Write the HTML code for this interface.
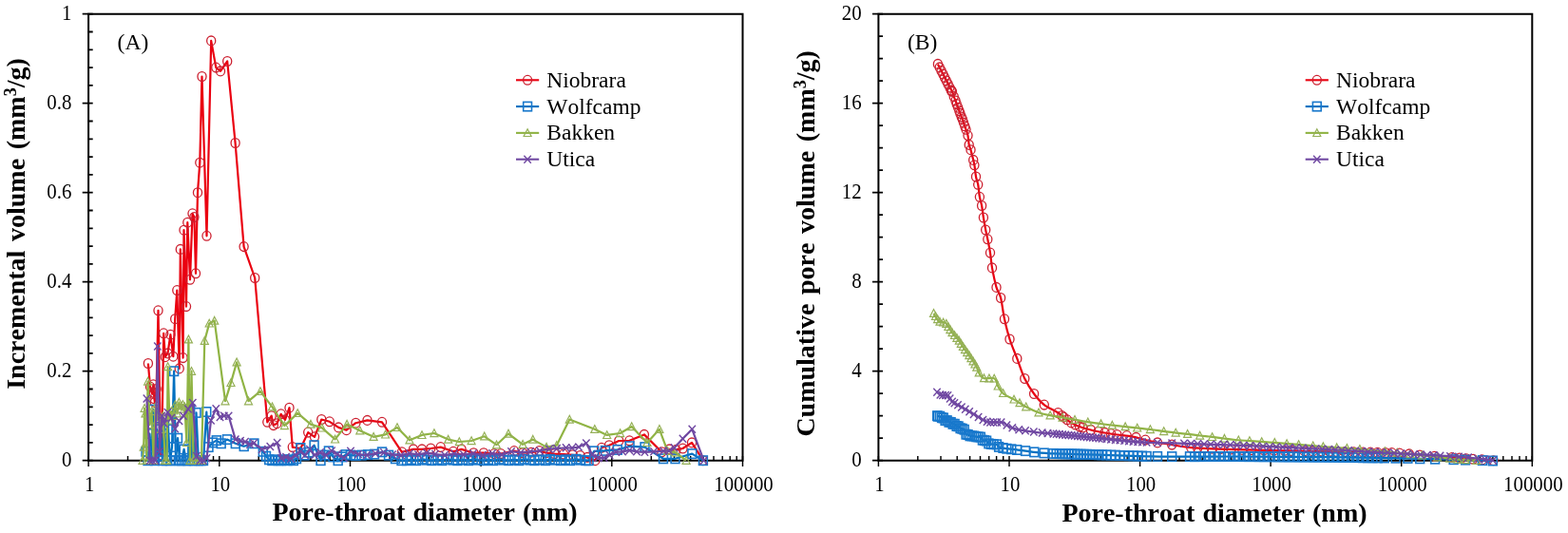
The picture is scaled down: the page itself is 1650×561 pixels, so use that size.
<!DOCTYPE html>
<html lang="en"><head><meta charset="utf-8"><title>Pore-throat size distribution</title>
<style>html,body{margin:0;padding:0;background:#fff}svg{display:block}text{font-family:"Liberation Serif","Times New Roman",serif;fill:#000;font-kerning:none}</style>
</head><body>
<svg width="1650" height="561" viewBox="0 0 1650 561">
<rect width="1650" height="561" fill="#fff"/>
<g id="plotA">
<path d="M93.1 14.7H781.5V484.7H93.1Z" fill="none" stroke="#000" stroke-width="2"/>
<path d="M86.7 484.7H97.7M93.1 465.9H97.7M93.1 447.1H97.7M93.1 428.3H97.7M93.1 409.5H97.7M86.7 390.7H97.7M93.1 371.9H97.7M93.1 353.1H97.7M93.1 334.3H97.7M93.1 315.5H97.7M86.7 296.7H97.7M93.1 277.9H97.7M93.1 259.1H97.7M93.1 240.3H97.7M93.1 221.5H97.7M86.7 202.7H97.7M93.1 183.9H97.7M93.1 165.1H97.7M93.1 146.3H97.7M93.1 127.5H97.7M86.7 108.7H97.7M93.1 89.9H97.7M93.1 71.1H97.7M93.1 52.3H97.7M93.1 33.5H97.7M86.7 14.7H97.7" fill="none" stroke="#000" stroke-width="1.8"/>
<path d="M93.1 480.1V491M134.5 480.1V484.7M158.8 480.1V484.7M176 480.1V484.7M189.3 480.1V484.7M200.2 480.1V484.7M209.5 480.1V484.7M217.4 480.1V484.7M224.5 480.1V484.7M230.8 480.1V491M272.2 480.1V484.7M296.5 480.1V484.7M313.7 480.1V484.7M327 480.1V484.7M337.9 480.1V484.7M347.1 480.1V484.7M355.1 480.1V484.7M362.2 480.1V484.7M368.5 480.1V491M409.9 480.1V484.7M434.2 480.1V484.7M451.4 480.1V484.7M464.7 480.1V484.7M475.6 480.1V484.7M484.8 480.1V484.7M492.8 480.1V484.7M499.8 480.1V484.7M506.1 480.1V491M547.6 480.1V484.7M571.8 480.1V484.7M589 480.1V484.7M602.4 480.1V484.7M613.3 480.1V484.7M622.5 480.1V484.7M630.5 480.1V484.7M637.5 480.1V484.7M643.8 480.1V491M685.3 480.1V484.7M709.5 480.1V484.7M726.7 480.1V484.7M740.1 480.1V484.7M751 480.1V484.7M760.2 480.1V484.7M768.2 480.1V484.7M775.2 480.1V484.7M781.5 480.1V491" fill="none" stroke="#000" stroke-width="1.45"/>
<g font-size="20.9" text-anchor="end">
<text transform="translate(75.4 491.4) scale(1 1.06)">0</text>
<text transform="translate(75.4 397.4) scale(1 1.06)">0.2</text>
<text transform="translate(75.4 303.4) scale(1 1.06)">0.4</text>
<text transform="translate(75.4 209.4) scale(1 1.06)">0.6</text>
<text transform="translate(75.4 115.4) scale(1 1.06)">0.8</text>
<text transform="translate(75.4 21.4) scale(1 1.06)">1</text>
</g>
<g font-size="21.7" text-anchor="middle">
<text transform="translate(94.1 516.8) scale(0.96 1.06)">1</text>
<text transform="translate(231.8 516.8) scale(0.96 1.06)">10</text>
<text transform="translate(369.5 516.8) scale(0.96 1.06)">100</text>
<text transform="translate(507.1 516.8) scale(0.96 1.06)">1000</text>
<text transform="translate(644.8 516.8) scale(0.96 1.06)">10000</text>
<text transform="translate(782.5 516.8) scale(0.96 1.06)">100000</text>
</g>
<text x="123.6" y="52.1" font-size="23.6">(A)</text>
<text transform="translate(26 409.8) rotate(-90)" font-size="28" font-weight="bold" word-spacing="2.6">Incremental volume (mm<tspan font-size="18" dy="-9">3</tspan><tspan dy="9">/g)</tspan></text>
<text x="447" y="548.2" font-size="28" font-weight="bold" word-spacing="1.2" text-anchor="middle">Pore-throat diameter (nm)</text>
<path d="M155.9 382.5L158 407.1L160 414.2L161.3 404.8L161.9 413.3L162.4 419.8L162.9 423.6L164.6 409.5L166.5 326.8L168.8 465.9L169.3 479.1L169.7 475.3L170.2 470.6L172.2 350.8L173.8 375.7L176.5 371.9L179.4 352.2L182.3 375.2L184.2 335.7L186.3 305.6L188.7 387.9L189.8 262.4L192.6 376.6L193.5 242.2L196 322.6L197.3 234.2L200 294.3L202.5 224.8L204.4 228.5L206 287.8L208 202.7L210.3 171.2L212.5 80.5L217.5 248.3L222.2 42.9L227.3 71.1L232 74.9L239.2 64.5L247.6 150.5L256.6 259.6L268.2 292.5L281.3 444.3L285.7 437.7L287.8 447.6L291.4 445.7L295.7 435.8L300 441.9L304.5 429.2L307.8 470.6L316.3 472L324.2 455.1L331 459.8L338.3 441.5L346.8 443.8L356.2 449.9L364.6 452.7L374.4 445.2L386.5 442.4L402 444.3L422.9 475.8L435 472.9L444 472.9L453.3 472L463.7 470.6L477 475.3L485.6 472.9L498.4 476.7L509 476.7L520 477.6L527 477.6L541 474.6L550 476.7L559 476.2L567.5 474.6L575 476.7L583.5 477.6L593 478.1L602.8 478.8L610.5 479.5L618 481.4L626.3 484.7L633 471.3L641 468.7L651.3 464L662.4 463.8L677.9 457.4L696.3 475.8L704.3 472.9L711.4 473.4L718.5 472L728 465.9L739.9 484.7" fill="none" stroke="#ea0010" stroke-width="2.2" stroke-linejoin="round"/>
<g fill="none" stroke="#cc2030" stroke-width="1.3"><ellipse cx="155.9" cy="382.5" rx="4.55" ry="4.9"/><ellipse cx="158" cy="407.1" rx="4.55" ry="4.9"/><ellipse cx="160" cy="414.2" rx="4.55" ry="4.9"/><ellipse cx="161.3" cy="404.8" rx="4.55" ry="4.9"/><ellipse cx="161.9" cy="413.3" rx="4.55" ry="4.9"/><ellipse cx="162.4" cy="419.8" rx="4.55" ry="4.9"/><ellipse cx="162.9" cy="423.6" rx="4.55" ry="4.9"/><ellipse cx="164.6" cy="409.5" rx="4.55" ry="4.9"/><ellipse cx="166.5" cy="326.8" rx="4.55" ry="4.9"/><ellipse cx="168.8" cy="465.9" rx="4.55" ry="4.9"/><ellipse cx="169.3" cy="479.1" rx="4.55" ry="4.9"/><ellipse cx="169.7" cy="475.3" rx="4.55" ry="4.9"/><ellipse cx="170.2" cy="470.6" rx="4.55" ry="4.9"/><ellipse cx="172.2" cy="350.8" rx="4.55" ry="4.9"/><ellipse cx="173.8" cy="375.7" rx="4.55" ry="4.9"/><ellipse cx="176.5" cy="371.9" rx="4.55" ry="4.9"/><ellipse cx="179.4" cy="352.2" rx="4.55" ry="4.9"/><ellipse cx="182.3" cy="375.2" rx="4.55" ry="4.9"/><ellipse cx="184.2" cy="335.7" rx="4.55" ry="4.9"/><ellipse cx="186.3" cy="305.6" rx="4.55" ry="4.9"/><ellipse cx="188.7" cy="387.9" rx="4.55" ry="4.9"/><ellipse cx="189.8" cy="262.4" rx="4.55" ry="4.9"/><ellipse cx="192.6" cy="376.6" rx="4.55" ry="4.9"/><ellipse cx="193.5" cy="242.2" rx="4.55" ry="4.9"/><ellipse cx="196" cy="322.6" rx="4.55" ry="4.9"/><ellipse cx="197.3" cy="234.2" rx="4.55" ry="4.9"/><ellipse cx="200" cy="294.3" rx="4.55" ry="4.9"/><ellipse cx="202.5" cy="224.8" rx="4.55" ry="4.9"/><ellipse cx="204.4" cy="228.5" rx="4.55" ry="4.9"/><ellipse cx="206" cy="287.8" rx="4.55" ry="4.9"/><ellipse cx="208" cy="202.7" rx="4.55" ry="4.9"/><ellipse cx="210.3" cy="171.2" rx="4.55" ry="4.9"/><ellipse cx="212.5" cy="80.5" rx="4.55" ry="4.9"/><ellipse cx="217.5" cy="248.3" rx="4.55" ry="4.9"/><ellipse cx="222.2" cy="42.9" rx="4.55" ry="4.9"/><ellipse cx="227.3" cy="71.1" rx="4.55" ry="4.9"/><ellipse cx="232" cy="74.9" rx="4.55" ry="4.9"/><ellipse cx="239.2" cy="64.5" rx="4.55" ry="4.9"/><ellipse cx="247.6" cy="150.5" rx="4.55" ry="4.9"/><ellipse cx="256.6" cy="259.6" rx="4.55" ry="4.9"/><ellipse cx="268.2" cy="292.5" rx="4.55" ry="4.9"/><ellipse cx="281.3" cy="444.3" rx="4.55" ry="4.9"/><ellipse cx="285.7" cy="437.7" rx="4.55" ry="4.9"/><ellipse cx="287.8" cy="447.6" rx="4.55" ry="4.9"/><ellipse cx="291.4" cy="445.7" rx="4.55" ry="4.9"/><ellipse cx="295.7" cy="435.8" rx="4.55" ry="4.9"/><ellipse cx="300" cy="441.9" rx="4.55" ry="4.9"/><ellipse cx="304.5" cy="429.2" rx="4.55" ry="4.9"/><ellipse cx="307.8" cy="470.6" rx="4.55" ry="4.9"/><ellipse cx="316.3" cy="472" rx="4.55" ry="4.9"/><ellipse cx="324.2" cy="455.1" rx="4.55" ry="4.9"/><ellipse cx="331" cy="459.8" rx="4.55" ry="4.9"/><ellipse cx="338.3" cy="441.5" rx="4.55" ry="4.9"/><ellipse cx="346.8" cy="443.8" rx="4.55" ry="4.9"/><ellipse cx="356.2" cy="449.9" rx="4.55" ry="4.9"/><ellipse cx="364.6" cy="452.7" rx="4.55" ry="4.9"/><ellipse cx="374.4" cy="445.2" rx="4.55" ry="4.9"/><ellipse cx="386.5" cy="442.4" rx="4.55" ry="4.9"/><ellipse cx="402" cy="444.3" rx="4.55" ry="4.9"/><ellipse cx="422.9" cy="475.8" rx="4.55" ry="4.9"/><ellipse cx="435" cy="472.9" rx="4.55" ry="4.9"/><ellipse cx="444" cy="472.9" rx="4.55" ry="4.9"/><ellipse cx="453.3" cy="472" rx="4.55" ry="4.9"/><ellipse cx="463.7" cy="470.6" rx="4.55" ry="4.9"/><ellipse cx="477" cy="475.3" rx="4.55" ry="4.9"/><ellipse cx="485.6" cy="472.9" rx="4.55" ry="4.9"/><ellipse cx="498.4" cy="476.7" rx="4.55" ry="4.9"/><ellipse cx="509" cy="476.7" rx="4.55" ry="4.9"/><ellipse cx="520" cy="477.6" rx="4.55" ry="4.9"/><ellipse cx="527" cy="477.6" rx="4.55" ry="4.9"/><ellipse cx="541" cy="474.6" rx="4.55" ry="4.9"/><ellipse cx="550" cy="476.7" rx="4.55" ry="4.9"/><ellipse cx="559" cy="476.2" rx="4.55" ry="4.9"/><ellipse cx="567.5" cy="474.6" rx="4.55" ry="4.9"/><ellipse cx="575" cy="476.7" rx="4.55" ry="4.9"/><ellipse cx="583.5" cy="477.6" rx="4.55" ry="4.9"/><ellipse cx="593" cy="478.1" rx="4.55" ry="4.9"/><ellipse cx="602.8" cy="478.8" rx="4.55" ry="4.9"/><ellipse cx="610.5" cy="479.5" rx="4.55" ry="4.9"/><ellipse cx="618" cy="481.4" rx="4.55" ry="4.9"/><ellipse cx="626.3" cy="484.7" rx="4.55" ry="4.9"/><ellipse cx="633" cy="471.3" rx="4.55" ry="4.9"/><ellipse cx="641" cy="468.7" rx="4.55" ry="4.9"/><ellipse cx="651.3" cy="464" rx="4.55" ry="4.9"/><ellipse cx="662.4" cy="463.8" rx="4.55" ry="4.9"/><ellipse cx="677.9" cy="457.4" rx="4.55" ry="4.9"/><ellipse cx="696.3" cy="475.8" rx="4.55" ry="4.9"/><ellipse cx="704.3" cy="472.9" rx="4.55" ry="4.9"/><ellipse cx="711.4" cy="473.4" rx="4.55" ry="4.9"/><ellipse cx="718.5" cy="472" rx="4.55" ry="4.9"/><ellipse cx="728" cy="465.9" rx="4.55" ry="4.9"/><ellipse cx="739.9" cy="484.7" rx="4.55" ry="4.9"/></g>
<path d="M153.5 475.3L155.5 484.7L157.5 456.5L159.4 480L161.2 431.1L163 484.7L165 451.8L167 480L169 449.4L171 484.7L173 447.1L175 484.7L177 451.8L179 484.7L181 470.6L183.1 390.7L185 484.7L187 461.2L189 484.7L191.3 484.7L193.6 472.9L195.8 484.7L198 484.7L200.2 430.6L202.3 484.7L204.4 484.7L206.5 434.4L208.8 484.7L211.3 484.7L214 484.7L217.3 433.5L219.5 470.6L223.9 465.9L227.8 463.6L232.7 466.8L238.9 462.6L247.8 466.8L256.7 469.7L267.4 466.8L276.8 475.3L280 480.2L283.2 483.8L286.4 484.7L289.6 483.8L292.8 484.7L296 484.7L299.2 483.8L302.4 484.7L305.6 483.8L308.8 484.7L312 482.8L316.3 471.5L320.5 479.1L325 476.2L330.6 468.7L337.5 484.7L341.5 479.1L345.9 474.8L350.5 480.9L355.7 484.7L360 480.9L363.7 478.6L369 479.1L374.4 479.5L380.5 479.1L386.9 478.6L394 478.1L402 475.8L409 479.1L416 482.8L422.5 484.7L428 484.7L432.9 483.8L438.3 484.7L444.2 483.3L449.1 484.2L454.5 484.7L460.4 483.8L465.3 484.7L470.7 483.3L476.6 484.2L481.5 484.7L486.9 483.8L492.8 484.7L497.7 483.3L503.1 484.2L509 484.7L513.9 483.8L519.3 484.7L525.2 483.3L530.1 484.2L535.5 484.7L541.4 483.8L546.3 484.7L551.7 483.3L557.6 484.2L562.5 484.7L567.9 483.8L573.8 484.7L578.7 483.3L584.1 484.2L590 484.7L594.9 483.8L600.3 484.7L606.2 483.3L611.1 484.2L616.5 484.7L619.6 484.7L625.2 474.8L637 474.4L649.8 473.4L662.6 469.7L678.5 470.6L698 482.8L710.5 482.8L728.3 477.6L739.9 484.7" fill="none" stroke="#0070c0" stroke-width="2.2" stroke-linejoin="round"/>
<g fill="none" stroke="#1878cc" stroke-width="1.6"><rect x="149.1" y="470.6" width="8.8" height="9.4"/><rect x="151.1" y="480" width="8.8" height="9.4"/><rect x="153.1" y="451.8" width="8.8" height="9.4"/><rect x="155" y="475.3" width="8.8" height="9.4"/><rect x="156.8" y="426.4" width="8.8" height="9.4"/><rect x="158.6" y="480" width="8.8" height="9.4"/><rect x="160.6" y="447.1" width="8.8" height="9.4"/><rect x="162.6" y="475.3" width="8.8" height="9.4"/><rect x="164.6" y="444.8" width="8.8" height="9.4"/><rect x="166.6" y="480" width="8.8" height="9.4"/><rect x="168.6" y="442.4" width="8.8" height="9.4"/><rect x="170.6" y="480" width="8.8" height="9.4"/><rect x="172.6" y="447.1" width="8.8" height="9.4"/><rect x="174.6" y="480" width="8.8" height="9.4"/><rect x="176.6" y="465.9" width="8.8" height="9.4"/><rect x="178.7" y="386" width="8.8" height="9.4"/><rect x="180.6" y="480" width="8.8" height="9.4"/><rect x="182.6" y="456.5" width="8.8" height="9.4"/><rect x="184.6" y="480" width="8.8" height="9.4"/><rect x="186.9" y="480" width="8.8" height="9.4"/><rect x="189.2" y="468.2" width="8.8" height="9.4"/><rect x="191.4" y="480" width="8.8" height="9.4"/><rect x="193.6" y="480" width="8.8" height="9.4"/><rect x="195.8" y="425.9" width="8.8" height="9.4"/><rect x="197.9" y="480" width="8.8" height="9.4"/><rect x="200" y="480" width="8.8" height="9.4"/><rect x="202.1" y="429.7" width="8.8" height="9.4"/><rect x="204.4" y="480" width="8.8" height="9.4"/><rect x="206.9" y="480" width="8.8" height="9.4"/><rect x="209.6" y="480" width="8.8" height="9.4"/><rect x="212.9" y="428.8" width="8.8" height="9.4"/><rect x="215.1" y="465.9" width="8.8" height="9.4"/><rect x="219.5" y="461.2" width="8.8" height="9.4"/><rect x="223.4" y="458.9" width="8.8" height="9.4"/><rect x="228.3" y="462.1" width="8.8" height="9.4"/><rect x="234.5" y="457.9" width="8.8" height="9.4"/><rect x="243.4" y="462.1" width="8.8" height="9.4"/><rect x="252.3" y="465" width="8.8" height="9.4"/><rect x="263" y="462.1" width="8.8" height="9.4"/><rect x="272.4" y="470.6" width="8.8" height="9.4"/><rect x="275.6" y="475.5" width="8.8" height="9.4"/><rect x="278.8" y="479.1" width="8.8" height="9.4"/><rect x="282" y="480" width="8.8" height="9.4"/><rect x="285.2" y="479.1" width="8.8" height="9.4"/><rect x="288.4" y="480" width="8.8" height="9.4"/><rect x="291.6" y="480" width="8.8" height="9.4"/><rect x="294.8" y="479.1" width="8.8" height="9.4"/><rect x="298" y="480" width="8.8" height="9.4"/><rect x="301.2" y="479.1" width="8.8" height="9.4"/><rect x="304.4" y="480" width="8.8" height="9.4"/><rect x="307.6" y="478.1" width="8.8" height="9.4"/><rect x="311.9" y="466.8" width="8.8" height="9.4"/><rect x="316.1" y="474.4" width="8.8" height="9.4"/><rect x="320.6" y="471.5" width="8.8" height="9.4"/><rect x="326.2" y="464" width="8.8" height="9.4"/><rect x="333.1" y="480" width="8.8" height="9.4"/><rect x="337.1" y="474.4" width="8.8" height="9.4"/><rect x="341.5" y="470.1" width="8.8" height="9.4"/><rect x="346.1" y="476.2" width="8.8" height="9.4"/><rect x="351.3" y="480" width="8.8" height="9.4"/><rect x="355.6" y="476.2" width="8.8" height="9.4"/><rect x="359.3" y="473.9" width="8.8" height="9.4"/><rect x="364.6" y="474.4" width="8.8" height="9.4"/><rect x="370" y="474.8" width="8.8" height="9.4"/><rect x="376.1" y="474.4" width="8.8" height="9.4"/><rect x="382.5" y="473.9" width="8.8" height="9.4"/><rect x="389.6" y="473.4" width="8.8" height="9.4"/><rect x="397.6" y="471.1" width="8.8" height="9.4"/><rect x="404.6" y="474.4" width="8.8" height="9.4"/><rect x="411.6" y="478.1" width="8.8" height="9.4"/><rect x="418.1" y="480" width="8.8" height="9.4"/><rect x="423.6" y="480" width="8.8" height="9.4"/><rect x="428.5" y="479.1" width="8.8" height="9.4"/><rect x="433.9" y="480" width="8.8" height="9.4"/><rect x="439.8" y="478.6" width="8.8" height="9.4"/><rect x="444.7" y="479.5" width="8.8" height="9.4"/><rect x="450.1" y="480" width="8.8" height="9.4"/><rect x="456" y="479.1" width="8.8" height="9.4"/><rect x="460.9" y="480" width="8.8" height="9.4"/><rect x="466.3" y="478.6" width="8.8" height="9.4"/><rect x="472.2" y="479.5" width="8.8" height="9.4"/><rect x="477.1" y="480" width="8.8" height="9.4"/><rect x="482.5" y="479.1" width="8.8" height="9.4"/><rect x="488.4" y="480" width="8.8" height="9.4"/><rect x="493.3" y="478.6" width="8.8" height="9.4"/><rect x="498.7" y="479.5" width="8.8" height="9.4"/><rect x="504.6" y="480" width="8.8" height="9.4"/><rect x="509.5" y="479.1" width="8.8" height="9.4"/><rect x="514.9" y="480" width="8.8" height="9.4"/><rect x="520.8" y="478.6" width="8.8" height="9.4"/><rect x="525.7" y="479.5" width="8.8" height="9.4"/><rect x="531.1" y="480" width="8.8" height="9.4"/><rect x="537" y="479.1" width="8.8" height="9.4"/><rect x="541.9" y="480" width="8.8" height="9.4"/><rect x="547.3" y="478.6" width="8.8" height="9.4"/><rect x="553.2" y="479.5" width="8.8" height="9.4"/><rect x="558.1" y="480" width="8.8" height="9.4"/><rect x="563.5" y="479.1" width="8.8" height="9.4"/><rect x="569.4" y="480" width="8.8" height="9.4"/><rect x="574.3" y="478.6" width="8.8" height="9.4"/><rect x="579.7" y="479.5" width="8.8" height="9.4"/><rect x="585.6" y="480" width="8.8" height="9.4"/><rect x="590.5" y="479.1" width="8.8" height="9.4"/><rect x="595.9" y="480" width="8.8" height="9.4"/><rect x="601.8" y="478.6" width="8.8" height="9.4"/><rect x="606.7" y="479.5" width="8.8" height="9.4"/><rect x="612.1" y="480" width="8.8" height="9.4"/><rect x="615.2" y="480" width="8.8" height="9.4"/><rect x="620.8" y="470.1" width="8.8" height="9.4"/><rect x="632.6" y="469.7" width="8.8" height="9.4"/><rect x="645.4" y="468.7" width="8.8" height="9.4"/><rect x="658.2" y="465" width="8.8" height="9.4"/><rect x="674.1" y="465.9" width="8.8" height="9.4"/><rect x="693.6" y="478.1" width="8.8" height="9.4"/><rect x="706.1" y="478.1" width="8.8" height="9.4"/><rect x="723.9" y="472.9" width="8.8" height="9.4"/><rect x="735.5" y="480" width="8.8" height="9.4"/></g>
<path d="M150 484.7L151.2 470.6L152.1 429.7L153 435.3L154.3 484.7L155.6 401.5L157.6 447.1L159.6 433L161.6 484.7L163.6 428.3L165.6 442.4L167.6 437.7L169.6 451.8L171.6 437.7L173.6 484.7L175.6 484.7L176.6 386L178.4 442.4L180.4 433L182.4 437.7L184.4 425.9L186.4 435.3L188.4 423.6L190.4 430.6L192.4 425.9L194.4 428.3L196.4 465.9L198.4 357.3L199.9 484.7L201.5 390.7L203.6 484.7L206.5 484.7L209.3 484.7L212 484.7L215.3 358.7L220.2 340.4L225.7 337.6L237 422.2L243 402.9L249.1 381.3L261.5 422.2L273.9 411.9L286.5 428.3L299.4 448L313.2 434.9L327 446.6L338.8 450.4L352.6 462.4L365.1 446.6L378.8 453.2L393.1 459.8L405.6 457.4L418 449.9L431 463.3L444 457.9L456.9 456L471.7 462.6L483.3 465L496.1 464L509.7 459.3L522.5 468.2L535 456.5L550.1 467.8L560.8 462.6L575.1 470.6L585.8 468.7L599.3 441.5L625.8 451.8L638.7 457.9L652.6 456L664.7 449L681 465.9L693.9 451.8L702.5 474.8L710.5 476.2L722.1 484.7" fill="none" stroke="#90b444" stroke-width="2.2" stroke-linejoin="round"/>
<g fill="none" stroke="#95b058" stroke-width="1.2"><path d="M150 480.5L154 488.3H146Z"/><path d="M151.2 466.4L155.2 474.2H147.2Z"/><path d="M152.1 425.5L156.1 433.3H148.1Z"/><path d="M153 431.1L157 438.9H149Z"/><path d="M154.3 480.5L158.3 488.3H150.3Z"/><path d="M155.6 397.3L159.6 405.1H151.6Z"/><path d="M157.6 442.9L161.6 450.7H153.6Z"/><path d="M159.6 428.8L163.6 436.6H155.6Z"/><path d="M161.6 480.5L165.6 488.3H157.6Z"/><path d="M163.6 424.1L167.6 431.9H159.6Z"/><path d="M165.6 438.2L169.6 446H161.6Z"/><path d="M167.6 433.5L171.6 441.3H163.6Z"/><path d="M169.6 447.6L173.6 455.4H165.6Z"/><path d="M171.6 433.5L175.6 441.3H167.6Z"/><path d="M173.6 480.5L177.6 488.3H169.6Z"/><path d="M175.6 480.5L179.6 488.3H171.6Z"/><path d="M176.6 381.8L180.6 389.6H172.6Z"/><path d="M178.4 438.2L182.4 446H174.4Z"/><path d="M180.4 428.8L184.4 436.6H176.4Z"/><path d="M182.4 433.5L186.4 441.3H178.4Z"/><path d="M184.4 421.8L188.4 429.6H180.4Z"/><path d="M186.4 431.1L190.4 438.9H182.4Z"/><path d="M188.4 419.4L192.4 427.2H184.4Z"/><path d="M190.4 426.4L194.4 434.2H186.4Z"/><path d="M192.4 421.8L196.4 429.6H188.4Z"/><path d="M194.4 424.1L198.4 431.9H190.4Z"/><path d="M196.4 461.7L200.4 469.5H192.4Z"/><path d="M198.4 353.1L202.4 360.9H194.4Z"/><path d="M199.9 480.5L203.9 488.3H195.9Z"/><path d="M201.5 386.5L205.5 394.3H197.5Z"/><path d="M203.6 480.5L207.6 488.3H199.6Z"/><path d="M206.5 480.5L210.5 488.3H202.5Z"/><path d="M209.3 480.5L213.3 488.3H205.3Z"/><path d="M212 480.5L216 488.3H208Z"/><path d="M215.3 354.5L219.3 362.3H211.3Z"/><path d="M220.2 336.2L224.2 344H216.2Z"/><path d="M225.7 333.4L229.7 341.2H221.7Z"/><path d="M237 418L241 425.8H233Z"/><path d="M243 398.7L247 406.5H239Z"/><path d="M249.1 377.1L253.1 384.9H245.1Z"/><path d="M261.5 418L265.5 425.8H257.5Z"/><path d="M273.9 407.7L277.9 415.5H269.9Z"/><path d="M286.5 424.1L290.5 431.9H282.5Z"/><path d="M299.4 443.8L303.4 451.6H295.4Z"/><path d="M313.2 430.7L317.2 438.5H309.2Z"/><path d="M327 442.4L331 450.2H323Z"/><path d="M338.8 446.2L342.8 454H334.8Z"/><path d="M352.6 458.2L356.6 466H348.6Z"/><path d="M365.1 442.4L369.1 450.2H361.1Z"/><path d="M378.8 449L382.8 456.8H374.8Z"/><path d="M393.1 455.6L397.1 463.4H389.1Z"/><path d="M405.6 453.2L409.6 461H401.6Z"/><path d="M418 445.7L422 453.5H414Z"/><path d="M431 459.1L435 466.9H427Z"/><path d="M444 453.7L448 461.5H440Z"/><path d="M456.9 451.8L460.9 459.6H452.9Z"/><path d="M471.7 458.4L475.7 466.2H467.7Z"/><path d="M483.3 460.8L487.3 468.6H479.3Z"/><path d="M496.1 459.8L500.1 467.6H492.1Z"/><path d="M509.7 455.1L513.7 462.9H505.7Z"/><path d="M522.5 464.1L526.5 471.9H518.5Z"/><path d="M535 452.3L539 460.1H531Z"/><path d="M550.1 463.6L554.1 471.4H546.1Z"/><path d="M560.8 458.4L564.8 466.2H556.8Z"/><path d="M575.1 466.4L579.1 474.2H571.1Z"/><path d="M585.8 464.5L589.8 472.3H581.8Z"/><path d="M599.3 437.3L603.3 445.1H595.3Z"/><path d="M625.8 447.6L629.8 455.4H621.8Z"/><path d="M638.7 453.7L642.7 461.5H634.7Z"/><path d="M652.6 451.8L656.6 459.6H648.6Z"/><path d="M664.7 444.8L668.7 452.6H660.7Z"/><path d="M681 461.7L685 469.5H677Z"/><path d="M693.9 447.6L697.9 455.4H689.9Z"/><path d="M702.5 470.6L706.5 478.4H698.5Z"/><path d="M710.5 472L714.5 479.8H706.5Z"/><path d="M722.1 480.5L726.1 488.3H718.1Z"/></g>
<path d="M154.4 419.4L157.8 484.7L160.4 484.7L163.4 484.7L165.8 364.4L168 475.3L170.4 437.7L172.8 445.7L176.4 433.9L180.3 440.1L184.2 451.3L188.5 442.9L193 437.7L198 430.6L202.8 424.1L207 480L210.5 484.7L214 484.7L217.5 482.3L222 442.4L227.3 430.2L231.5 439.1L235.8 437.7L240.6 437.7L247.8 462.6L253 464L258 465L263 467.8L267.1 466.4L275.7 472.9L284.3 470.1L291.7 465.9L296 482.3L301 480.9L306 482.8L311 479.1L316 475.3L321 479.1L326 472.9L331 479.1L337 476.2L343 479.1L349 474.4L355 478.1L362 481.9L369 474.8L377 478.1L386 479.1L395 477.2L404 476.2L413 478.6L422 479.1L431 477.2L440 478.6L449 476.7L458 478.1L468 479.1L478 477.6L488 478.6L498 477.2L508 479.1L518 477.2L528 478.6L538 475.3L548 476.2L558 475.3L568 474.4L578 472.5L586 472L595.6 471.3L602 471.5L609 470.6L616.9 466.4L623.2 478.6L629.5 481.9L635.7 481.9L641.5 479.1L648.1 475.8L655 475.3L662.4 473.9L670 475.3L678.4 475.8L688 475.3L698 474.8L704 474.4L709.6 471.3L718.5 461.7L728.3 451.8L740.6 484.7" fill="none" stroke="#7048a2" stroke-width="2.2" stroke-linejoin="round"/>
<g fill="none" stroke="#7048a2" stroke-width="1.4"><path d="M150.7 415.4L158.1 423.4M158.1 415.4L150.7 423.4"/><path d="M154.1 480.7L161.5 488.7M161.5 480.7L154.1 488.7"/><path d="M156.7 480.7L164.1 488.7M164.1 480.7L156.7 488.7"/><path d="M159.7 480.7L167.1 488.7M167.1 480.7L159.7 488.7"/><path d="M162.1 360.4L169.5 368.4M169.5 360.4L162.1 368.4"/><path d="M164.3 471.3L171.7 479.3M171.7 471.3L164.3 479.3"/><path d="M166.7 433.7L174.1 441.7M174.1 433.7L166.7 441.7"/><path d="M169.1 441.7L176.5 449.7M176.5 441.7L169.1 449.7"/><path d="M172.7 429.9L180.1 437.9M180.1 429.9L172.7 437.9"/><path d="M176.6 436.1L184 444.1M184 436.1L176.6 444.1"/><path d="M180.5 447.3L187.9 455.3M187.9 447.3L180.5 455.3"/><path d="M184.8 438.9L192.2 446.9M192.2 438.9L184.8 446.9"/><path d="M189.3 433.7L196.7 441.7M196.7 433.7L189.3 441.7"/><path d="M194.3 426.6L201.7 434.6M201.7 426.6L194.3 434.6"/><path d="M199.1 420.1L206.5 428.1M206.5 420.1L199.1 428.1"/><path d="M203.3 476L210.7 484M210.7 476L203.3 484"/><path d="M206.8 480.7L214.2 488.7M214.2 480.7L206.8 488.7"/><path d="M210.3 480.7L217.7 488.7M217.7 480.7L210.3 488.7"/><path d="M213.8 478.3L221.2 486.3M221.2 478.3L213.8 486.3"/><path d="M218.3 438.4L225.7 446.4M225.7 438.4L218.3 446.4"/><path d="M223.6 426.2L231 434.2M231 426.2L223.6 434.2"/><path d="M227.8 435.1L235.2 443.1M235.2 435.1L227.8 443.1"/><path d="M232.1 433.7L239.5 441.7M239.5 433.7L232.1 441.7"/><path d="M236.9 433.7L244.3 441.7M244.3 433.7L236.9 441.7"/><path d="M244.1 458.6L251.5 466.6M251.5 458.6L244.1 466.6"/><path d="M249.3 460L256.7 468M256.7 460L249.3 468"/><path d="M254.3 461L261.7 469M261.7 461L254.3 469"/><path d="M259.3 463.8L266.7 471.8M266.7 463.8L259.3 471.8"/><path d="M263.4 462.4L270.8 470.4M270.8 462.4L263.4 470.4"/><path d="M272 468.9L279.4 476.9M279.4 468.9L272 476.9"/><path d="M280.6 466.1L288 474.1M288 466.1L280.6 474.1"/><path d="M288 461.9L295.4 469.9M295.4 461.9L288 469.9"/><path d="M292.3 478.3L299.7 486.3M299.7 478.3L292.3 486.3"/><path d="M297.3 476.9L304.7 484.9M304.7 476.9L297.3 484.9"/><path d="M302.3 478.8L309.7 486.8M309.7 478.8L302.3 486.8"/><path d="M307.3 475.1L314.7 483.1M314.7 475.1L307.3 483.1"/><path d="M312.3 471.3L319.7 479.3M319.7 471.3L312.3 479.3"/><path d="M317.3 475.1L324.7 483.1M324.7 475.1L317.3 483.1"/><path d="M322.3 468.9L329.7 476.9M329.7 468.9L322.3 476.9"/><path d="M327.3 475.1L334.7 483.1M334.7 475.1L327.3 483.1"/><path d="M333.3 472.2L340.7 480.2M340.7 472.2L333.3 480.2"/><path d="M339.3 475.1L346.7 483.1M346.7 475.1L339.3 483.1"/><path d="M345.3 470.4L352.7 478.4M352.7 470.4L345.3 478.4"/><path d="M351.3 474.1L358.7 482.1M358.7 474.1L351.3 482.1"/><path d="M358.3 477.9L365.7 485.9M365.7 477.9L358.3 485.9"/><path d="M365.3 470.8L372.7 478.8M372.7 470.8L365.3 478.8"/><path d="M373.3 474.1L380.7 482.1M380.7 474.1L373.3 482.1"/><path d="M382.3 475.1L389.7 483.1M389.7 475.1L382.3 483.1"/><path d="M391.3 473.2L398.7 481.2M398.7 473.2L391.3 481.2"/><path d="M400.3 472.2L407.7 480.2M407.7 472.2L400.3 480.2"/><path d="M409.3 474.6L416.7 482.6M416.7 474.6L409.3 482.6"/><path d="M418.3 475.1L425.7 483.1M425.7 475.1L418.3 483.1"/><path d="M427.3 473.2L434.7 481.2M434.7 473.2L427.3 481.2"/><path d="M436.3 474.6L443.7 482.6M443.7 474.6L436.3 482.6"/><path d="M445.3 472.7L452.7 480.7M452.7 472.7L445.3 480.7"/><path d="M454.3 474.1L461.7 482.1M461.7 474.1L454.3 482.1"/><path d="M464.3 475.1L471.7 483.1M471.7 475.1L464.3 483.1"/><path d="M474.3 473.6L481.7 481.6M481.7 473.6L474.3 481.6"/><path d="M484.3 474.6L491.7 482.6M491.7 474.6L484.3 482.6"/><path d="M494.3 473.2L501.7 481.2M501.7 473.2L494.3 481.2"/><path d="M504.3 475.1L511.7 483.1M511.7 475.1L504.3 483.1"/><path d="M514.3 473.2L521.7 481.2M521.7 473.2L514.3 481.2"/><path d="M524.3 474.6L531.7 482.6M531.7 474.6L524.3 482.6"/><path d="M534.3 471.3L541.7 479.3M541.7 471.3L534.3 479.3"/><path d="M544.3 472.2L551.7 480.2M551.7 472.2L544.3 480.2"/><path d="M554.3 471.3L561.7 479.3M561.7 471.3L554.3 479.3"/><path d="M564.3 470.4L571.7 478.4M571.7 470.4L564.3 478.4"/><path d="M574.3 468.5L581.7 476.5M581.7 468.5L574.3 476.5"/><path d="M582.3 468L589.7 476M589.7 468L582.3 476"/><path d="M591.9 467.3L599.3 475.3M599.3 467.3L591.9 475.3"/><path d="M598.3 467.5L605.7 475.5M605.7 467.5L598.3 475.5"/><path d="M605.3 466.6L612.7 474.6M612.7 466.6L605.3 474.6"/><path d="M613.2 462.4L620.6 470.4M620.6 462.4L613.2 470.4"/><path d="M619.5 474.6L626.9 482.6M626.9 474.6L619.5 482.6"/><path d="M625.8 477.9L633.2 485.9M633.2 477.9L625.8 485.9"/><path d="M632 477.9L639.4 485.9M639.4 477.9L632 485.9"/><path d="M637.8 475.1L645.2 483.1M645.2 475.1L637.8 483.1"/><path d="M644.4 471.8L651.8 479.8M651.8 471.8L644.4 479.8"/><path d="M651.3 471.3L658.7 479.3M658.7 471.3L651.3 479.3"/><path d="M658.7 469.9L666.1 477.9M666.1 469.9L658.7 477.9"/><path d="M666.3 471.3L673.7 479.3M673.7 471.3L666.3 479.3"/><path d="M674.7 471.8L682.1 479.8M682.1 471.8L674.7 479.8"/><path d="M684.3 471.3L691.7 479.3M691.7 471.3L684.3 479.3"/><path d="M694.3 470.8L701.7 478.8M701.7 470.8L694.3 478.8"/><path d="M700.3 470.4L707.7 478.4M707.7 470.4L700.3 478.4"/><path d="M705.9 467.3L713.3 475.3M713.3 467.3L705.9 475.3"/><path d="M714.8 457.7L722.2 465.7M722.2 457.7L714.8 465.7"/><path d="M724.6 447.8L732 455.8M732 447.8L724.6 455.8"/><path d="M736.9 480.7L744.3 488.7M744.3 480.7L736.9 488.7"/></g>
</g>
<g id="plotB">
<path d="M924.4 14.7H1612.3V484.7H924.4Z" fill="none" stroke="#000" stroke-width="2"/>
<path d="M918 484.7H929M924.4 461.2H929M924.4 437.7H929M924.4 414.2H929M918 390.7H929M924.4 367.2H929M924.4 343.7H929M924.4 320.2H929M918 296.7H929M924.4 273.2H929M924.4 249.7H929M924.4 226.2H929M918 202.7H929M924.4 179.2H929M924.4 155.7H929M924.4 132.2H929M918 108.7H929M924.4 85.2H929M924.4 61.7H929M924.4 38.2H929M918 14.7H929" fill="none" stroke="#000" stroke-width="1.8"/>
<path d="M924.4 480.1V491M965.8 480.1V484.7M990 480.1V484.7M1007.2 480.1V484.7M1020.6 480.1V484.7M1031.5 480.1V484.7M1040.7 480.1V484.7M1048.6 480.1V484.7M1055.7 480.1V484.7M1062 480.1V491M1103.4 480.1V484.7M1127.6 480.1V484.7M1144.8 480.1V484.7M1158.1 480.1V484.7M1169 480.1V484.7M1178.2 480.1V484.7M1186.2 480.1V484.7M1193.3 480.1V484.7M1199.6 480.1V491M1241 480.1V484.7M1265.2 480.1V484.7M1282.4 480.1V484.7M1295.7 480.1V484.7M1306.6 480.1V484.7M1315.8 480.1V484.7M1323.8 480.1V484.7M1330.8 480.1V484.7M1337.1 480.1V491M1378.6 480.1V484.7M1402.8 480.1V484.7M1420 480.1V484.7M1433.3 480.1V484.7M1444.2 480.1V484.7M1453.4 480.1V484.7M1461.4 480.1V484.7M1468.4 480.1V484.7M1474.7 480.1V491M1516.1 480.1V484.7M1540.4 480.1V484.7M1557.6 480.1V484.7M1570.9 480.1V484.7M1581.8 480.1V484.7M1591 480.1V484.7M1599 480.1V484.7M1606 480.1V484.7M1612.3 480.1V491" fill="none" stroke="#000" stroke-width="1.45"/>
<g font-size="20.9" text-anchor="end">
<text transform="translate(906.7 491.4) scale(1 1.06)">0</text>
<text transform="translate(906.7 397.4) scale(1 1.06)">4</text>
<text transform="translate(906.7 303.4) scale(1 1.06)">8</text>
<text transform="translate(906.7 209.4) scale(1 1.06)">12</text>
<text transform="translate(906.7 115.4) scale(1 1.06)">16</text>
<text transform="translate(906.7 21.4) scale(1 1.06)">20</text>
</g>
<g font-size="21.7" text-anchor="middle">
<text transform="translate(925.4 516.8) scale(0.96 1.06)">1</text>
<text transform="translate(1063 516.8) scale(0.96 1.06)">10</text>
<text transform="translate(1200.6 516.8) scale(0.96 1.06)">100</text>
<text transform="translate(1338.1 516.8) scale(0.96 1.06)">1000</text>
<text transform="translate(1475.7 516.8) scale(0.96 1.06)">10000</text>
<text transform="translate(1613.3 516.8) scale(0.96 1.06)">100000</text>
</g>
<text x="955" y="52.1" font-size="23.6">(B)</text>
<text transform="translate(857.3 459.6) rotate(-90)" font-size="28" font-weight="bold" word-spacing="2.6">Cumulative pore volume (mm<tspan font-size="18" dy="-9">3</tspan><tspan dy="9">/g)</tspan></text>
<text x="1278" y="548.7" font-size="28" font-weight="bold" word-spacing="1.2" text-anchor="middle">Pore-throat diameter (nm)</text>
<path d="M986.9 67.4C989.3 72.1 998.6 89.6 1001.4 95.3C1004.2 101 1003 99.8 1003.7 101.6C1004.4 103.4 1005 104.7 1005.5 106C1006 107.3 1006.3 108.4 1006.7 109.6C1007.1 110.8 1007.7 112 1008.1 113.2C1008.5 114.4 1009 115.7 1009.4 116.7C1009.8 117.7 1010 118.4 1010.4 119.4C1010.8 120.5 1011.3 122 1011.7 123C1012.1 124 1012.5 124.7 1012.9 125.7C1013.3 126.7 1013.6 128 1014 129.2C1014.4 130.4 1014.9 131.6 1015.3 132.8C1015.7 134 1016 134.7 1016.5 136.3C1017 137.9 1018 139.9 1018.5 142.6C1019 145.3 1019.2 149.9 1019.7 152.4C1020.2 154.9 1020.8 155 1021.5 157.7C1022.2 160.4 1023.6 165.7 1024.2 168.4C1024.9 171.1 1024.9 170.9 1025.4 173.8C1025.9 176.7 1026.4 182.6 1027 186C1027.6 189.4 1028.5 190.8 1029.2 194.3C1029.9 197.9 1030.2 203.6 1030.9 207.3C1031.6 211 1032.4 212.9 1033.1 216.5C1033.8 220.1 1034.2 224.8 1034.9 229C1035.6 233.2 1036.5 238.2 1037.2 242C1037.9 245.8 1038.5 247.8 1039.3 251.8C1040.1 255.8 1041.2 261.1 1042 266.1C1042.8 271.1 1042.9 275.8 1044 281.9C1045.1 287.9 1047 297.1 1048.5 302.4C1050 307.7 1051.7 307.9 1053.1 313.5C1054.5 319.1 1055.4 328.6 1057 335.8C1058.6 343.1 1060.3 350.1 1062.5 357C1064.7 363.9 1067.7 370.5 1070.3 377.4C1072.9 384.3 1075.3 392.3 1078.3 398.5C1081.3 404.7 1084.7 409.9 1088.1 414.5C1091.5 419.1 1094.6 422.8 1098.8 426.1C1103 429.4 1108.8 431.4 1113.4 434.5C1118.1 437.6 1123 442.2 1126.7 444.6C1130.4 447 1131.5 447.5 1135.7 449C1139.9 450.5 1145.8 452.2 1151.7 453.5C1157.6 454.8 1165.4 456.1 1171.3 457C1177.2 457.9 1183.1 458.2 1187.3 458.8C1191.5 459.4 1193.2 459.9 1196.3 460.6C1199.4 461.4 1202.4 462.4 1206.1 463.3C1209.8 464.2 1214 465.2 1218.5 466C1223 466.8 1227 467.1 1232.8 468C1238.6 468.9 1242.2 470.3 1253.3 471.2C1264.4 472.1 1277.3 472.6 1299.6 473.2C1321.9 473.8 1359.6 474.4 1387 475C1414.4 475.6 1449.2 476.2 1464 476.6C1478.8 477 1471 476.8 1476 477.2C1481 477.6 1488.3 478.5 1494 479C1499.7 479.5 1504.3 479.8 1510 480.2C1515.7 480.6 1521.3 481 1528 481.5C1534.7 482 1542.8 482.8 1550 483.3C1557.2 483.8 1567.9 484.5 1571.5 484.7" fill="none" stroke="#ea0010" stroke-width="2.2" stroke-linejoin="round"/>
<g fill="none" stroke="#cc2030" stroke-width="1.3"><ellipse cx="986.9" cy="67.4" rx="4.55" ry="4.9"/><ellipse cx="988.7" cy="70.9" rx="4.55" ry="4.9"/><ellipse cx="990.5" cy="74.5" rx="4.55" ry="4.9"/><ellipse cx="992.3" cy="78" rx="4.55" ry="4.9"/><ellipse cx="994" cy="81.5" rx="4.55" ry="4.9"/><ellipse cx="995.8" cy="85" rx="4.55" ry="4.9"/><ellipse cx="997.6" cy="88.5" rx="4.55" ry="4.9"/><ellipse cx="999.4" cy="92.1" rx="4.55" ry="4.9"/><ellipse cx="1000.8" cy="95" rx="4.55" ry="4.9"/><ellipse cx="1001.4" cy="95.8" rx="4.55" ry="4.9"/><ellipse cx="1001.9" cy="96.4" rx="4.55" ry="4.9"/><ellipse cx="1003.7" cy="101.6" rx="4.55" ry="4.9"/><ellipse cx="1005.5" cy="106" rx="4.55" ry="4.9"/><ellipse cx="1006.7" cy="109.6" rx="4.55" ry="4.9"/><ellipse cx="1008.1" cy="113.2" rx="4.55" ry="4.9"/><ellipse cx="1009.4" cy="116.7" rx="4.55" ry="4.9"/><ellipse cx="1010.4" cy="119.4" rx="4.55" ry="4.9"/><ellipse cx="1011.7" cy="123" rx="4.55" ry="4.9"/><ellipse cx="1012.9" cy="125.7" rx="4.55" ry="4.9"/><ellipse cx="1014" cy="129.2" rx="4.55" ry="4.9"/><ellipse cx="1015.3" cy="132.8" rx="4.55" ry="4.9"/><ellipse cx="1016.5" cy="136.3" rx="4.55" ry="4.9"/><ellipse cx="1018.5" cy="142.6" rx="4.55" ry="4.9"/><ellipse cx="1019.7" cy="152.4" rx="4.55" ry="4.9"/><ellipse cx="1021.5" cy="157.7" rx="4.55" ry="4.9"/><ellipse cx="1024.2" cy="168.4" rx="4.55" ry="4.9"/><ellipse cx="1025.4" cy="173.8" rx="4.55" ry="4.9"/><ellipse cx="1027" cy="186" rx="4.55" ry="4.9"/><ellipse cx="1029.2" cy="194.3" rx="4.55" ry="4.9"/><ellipse cx="1030.9" cy="207.3" rx="4.55" ry="4.9"/><ellipse cx="1033.1" cy="216.5" rx="4.55" ry="4.9"/><ellipse cx="1034.9" cy="229" rx="4.55" ry="4.9"/><ellipse cx="1037.2" cy="242" rx="4.55" ry="4.9"/><ellipse cx="1039.3" cy="251.8" rx="4.55" ry="4.9"/><ellipse cx="1042" cy="266.1" rx="4.55" ry="4.9"/><ellipse cx="1044" cy="281.9" rx="4.55" ry="4.9"/><ellipse cx="1048.5" cy="302.4" rx="4.55" ry="4.9"/><ellipse cx="1053.1" cy="313.5" rx="4.55" ry="4.9"/><ellipse cx="1057" cy="335.8" rx="4.55" ry="4.9"/><ellipse cx="1062.5" cy="357" rx="4.55" ry="4.9"/><ellipse cx="1070.3" cy="377.4" rx="4.55" ry="4.9"/><ellipse cx="1078.3" cy="398.5" rx="4.55" ry="4.9"/><ellipse cx="1088.1" cy="414.5" rx="4.55" ry="4.9"/><ellipse cx="1098.8" cy="426.1" rx="4.55" ry="4.9"/><ellipse cx="1113.4" cy="434.5" rx="4.55" ry="4.9"/><ellipse cx="1117.3" cy="437.5" rx="4.55" ry="4.9"/><ellipse cx="1119.4" cy="439.1" rx="4.55" ry="4.9"/><ellipse cx="1123" cy="441.8" rx="4.55" ry="4.9"/><ellipse cx="1127.3" cy="444.9" rx="4.55" ry="4.9"/><ellipse cx="1131.6" cy="447" rx="4.55" ry="4.9"/><ellipse cx="1136.1" cy="449.1" rx="4.55" ry="4.9"/><ellipse cx="1139.4" cy="450" rx="4.55" ry="4.9"/><ellipse cx="1147.9" cy="452.4" rx="4.55" ry="4.9"/><ellipse cx="1155.8" cy="454.2" rx="4.55" ry="4.9"/><ellipse cx="1162.6" cy="455.4" rx="4.55" ry="4.9"/><ellipse cx="1169" cy="456.6" rx="4.55" ry="4.9"/><ellipse cx="1175.4" cy="457.5" rx="4.55" ry="4.9"/><ellipse cx="1185.7" cy="458.6" rx="4.55" ry="4.9"/><ellipse cx="1195.5" cy="460.4" rx="4.55" ry="4.9"/><ellipse cx="1205.3" cy="463.1" rx="4.55" ry="4.9"/><ellipse cx="1218" cy="465.9" rx="4.55" ry="4.9"/><ellipse cx="1233.2" cy="468.1" rx="4.55" ry="4.9"/><ellipse cx="1253.3" cy="471.2" rx="4.55" ry="4.9"/><ellipse cx="1260.2" cy="471.5" rx="4.55" ry="4.9"/><ellipse cx="1267" cy="471.8" rx="4.55" ry="4.9"/><ellipse cx="1275.4" cy="472.2" rx="4.55" ry="4.9"/><ellipse cx="1284.2" cy="472.5" rx="4.55" ry="4.9"/><ellipse cx="1295.5" cy="473" rx="4.55" ry="4.9"/><ellipse cx="1307.3" cy="473.4" rx="4.55" ry="4.9"/><ellipse cx="1317" cy="473.6" rx="4.55" ry="4.9"/><ellipse cx="1330" cy="473.8" rx="4.55" ry="4.9"/><ellipse cx="1340.6" cy="474" rx="4.55" ry="4.9"/><ellipse cx="1351.6" cy="474.3" rx="4.55" ry="4.9"/><ellipse cx="1358.6" cy="474.4" rx="4.55" ry="4.9"/><ellipse cx="1372.6" cy="474.7" rx="4.55" ry="4.9"/><ellipse cx="1381.6" cy="474.9" rx="4.55" ry="4.9"/><ellipse cx="1390.6" cy="475.1" rx="4.55" ry="4.9"/><ellipse cx="1399.1" cy="475.3" rx="4.55" ry="4.9"/><ellipse cx="1406.6" cy="475.4" rx="4.55" ry="4.9"/><ellipse cx="1415.1" cy="475.6" rx="4.55" ry="4.9"/><ellipse cx="1424.6" cy="475.8" rx="4.55" ry="4.9"/><ellipse cx="1434.4" cy="476" rx="4.55" ry="4.9"/><ellipse cx="1442.1" cy="476.1" rx="4.55" ry="4.9"/><ellipse cx="1449.6" cy="476.3" rx="4.55" ry="4.9"/><ellipse cx="1457.9" cy="476.5" rx="4.55" ry="4.9"/><ellipse cx="1464.6" cy="476.6" rx="4.55" ry="4.9"/><ellipse cx="1472.6" cy="477" rx="4.55" ry="4.9"/><ellipse cx="1482.9" cy="477.9" rx="4.55" ry="4.9"/><ellipse cx="1494" cy="479" rx="4.55" ry="4.9"/><ellipse cx="1509.5" cy="480.2" rx="4.55" ry="4.9"/><ellipse cx="1527.9" cy="481.5" rx="4.55" ry="4.9"/><ellipse cx="1535.9" cy="482.1" rx="4.55" ry="4.9"/><ellipse cx="1543" cy="482.7" rx="4.55" ry="4.9"/><ellipse cx="1550.1" cy="483.3" rx="4.55" ry="4.9"/><ellipse cx="1559.6" cy="483.9" rx="4.55" ry="4.9"/><ellipse cx="1571.5" cy="484.7" rx="4.55" ry="4.9"/></g>
<path d="M986.2 437.7C986.4 437.8 986.6 438.1 987.1 438.2C987.6 438.3 988.5 438 989.1 438.2C989.8 438.5 990.4 439.4 991 439.7C991.6 439.9 992.2 439.4 992.8 439.9C993.4 440.4 994 442.1 994.6 442.6C995.2 443.1 995.9 442.3 996.6 442.6C997.3 442.9 997.9 444 998.6 444.3C999.3 444.6 999.9 444.2 1000.6 444.5C1001.3 444.9 1001.9 446 1002.6 446.3C1003.3 446.6 1003.9 446 1004.6 446.3C1005.3 446.7 1005.9 448.1 1006.6 448.5C1007.3 448.9 1007.9 448.4 1008.6 448.8C1009.3 449.2 1009.9 450.4 1010.6 450.8C1011.3 451.2 1011.9 450.9 1012.6 451.2C1013.3 451.4 1014 451.2 1014.7 452.2C1015.4 453.2 1016 456.4 1016.6 457.2C1017.2 458.1 1017.9 457.2 1018.6 457.5C1019.3 457.7 1019.9 458.5 1020.6 458.8C1021.3 459 1022.1 458.9 1022.9 458.9C1023.7 459 1024.5 458.9 1025.2 459C1026 459.2 1026.7 459.6 1027.4 459.8C1028.1 459.9 1028.9 459.8 1029.6 459.9C1030.3 460 1031.1 459.6 1031.8 460.1C1032.5 460.7 1033.2 462.6 1033.9 463.2C1034.6 463.8 1035.3 463.5 1036 463.6C1036.7 463.7 1037.4 463.4 1038.1 464C1038.8 464.5 1039.6 466.4 1040.4 466.9C1041.2 467.5 1042 467.3 1042.9 467.4C1043.8 467.5 1044.6 467.6 1045.6 467.7C1046.6 467.7 1048 467.3 1048.9 467.8C1049.8 468.2 1049.5 469.7 1051.1 470.4C1052.7 471.1 1055.1 471.6 1058.5 472.1C1061.9 472.6 1065.4 472.9 1071.3 473.6C1077.2 474.4 1087.5 476 1093.7 476.6C1099.9 477.2 1098.4 477.1 1108.4 477.4C1118.4 477.7 1137.1 478.1 1153.5 478.6C1169.9 479.1 1193.8 480 1207 480.3C1220.2 480.6 1217.6 480.6 1233 480.6C1248.4 480.6 1271.8 480.4 1299.6 480.5C1327.4 480.6 1370.6 480.9 1400 481.2C1429.4 481.5 1452.7 481.8 1476 482.3C1499.3 482.8 1524.2 483.6 1540 484C1555.8 484.4 1565.7 484.8 1570.8 485" fill="none" stroke="#0070c0" stroke-width="2.2" stroke-linejoin="round"/>
<g fill="none" stroke="#1878cc" stroke-width="1.6"><rect x="981.8" y="433" width="8.8" height="9.4"/><rect x="982.7" y="433.5" width="8.8" height="9.4"/><rect x="984.7" y="433.5" width="8.8" height="9.4"/><rect x="986.6" y="435" width="8.8" height="9.4"/><rect x="988.4" y="435.2" width="8.8" height="9.4"/><rect x="990.2" y="437.9" width="8.8" height="9.4"/><rect x="992.2" y="437.9" width="8.8" height="9.4"/><rect x="994.2" y="439.6" width="8.8" height="9.4"/><rect x="996.2" y="439.8" width="8.8" height="9.4"/><rect x="998.2" y="441.6" width="8.8" height="9.4"/><rect x="1000.2" y="441.6" width="8.8" height="9.4"/><rect x="1002.2" y="443.8" width="8.8" height="9.4"/><rect x="1004.2" y="444.1" width="8.8" height="9.4"/><rect x="1006.2" y="446.1" width="8.8" height="9.4"/><rect x="1008.2" y="446.5" width="8.8" height="9.4"/><rect x="1010.3" y="447.5" width="8.8" height="9.4"/><rect x="1012.2" y="452.5" width="8.8" height="9.4"/><rect x="1014.2" y="452.8" width="8.8" height="9.4"/><rect x="1016.2" y="454.1" width="8.8" height="9.4"/><rect x="1018.5" y="454.2" width="8.8" height="9.4"/><rect x="1020.8" y="454.3" width="8.8" height="9.4"/><rect x="1023" y="455.1" width="8.8" height="9.4"/><rect x="1025.2" y="455.2" width="8.8" height="9.4"/><rect x="1027.4" y="455.4" width="8.8" height="9.4"/><rect x="1029.5" y="458.5" width="8.8" height="9.4"/><rect x="1031.6" y="458.9" width="8.8" height="9.4"/><rect x="1033.7" y="459.3" width="8.8" height="9.4"/><rect x="1036" y="462.2" width="8.8" height="9.4"/><rect x="1038.5" y="462.7" width="8.8" height="9.4"/><rect x="1041.2" y="463" width="8.8" height="9.4"/><rect x="1044.5" y="463.1" width="8.8" height="9.4"/><rect x="1046.7" y="465.7" width="8.8" height="9.4"/><rect x="1051.1" y="466.8" width="8.8" height="9.4"/><rect x="1055" y="467.5" width="8.8" height="9.4"/><rect x="1059.9" y="468.1" width="8.8" height="9.4"/><rect x="1065.8" y="468.8" width="8.8" height="9.4"/><rect x="1074.6" y="469.9" width="8.8" height="9.4"/><rect x="1083.9" y="471.2" width="8.8" height="9.4"/><rect x="1094.2" y="472.2" width="8.8" height="9.4"/><rect x="1104" y="472.7" width="8.8" height="9.4"/><rect x="1107.2" y="472.8" width="8.8" height="9.4"/><rect x="1110.4" y="472.9" width="8.8" height="9.4"/><rect x="1113.6" y="473" width="8.8" height="9.4"/><rect x="1116.8" y="473" width="8.8" height="9.4"/><rect x="1120" y="473.1" width="8.8" height="9.4"/><rect x="1123.2" y="473.2" width="8.8" height="9.4"/><rect x="1126.4" y="473.3" width="8.8" height="9.4"/><rect x="1129.6" y="473.4" width="8.8" height="9.4"/><rect x="1132.8" y="473.5" width="8.8" height="9.4"/><rect x="1136" y="473.6" width="8.8" height="9.4"/><rect x="1139.2" y="473.6" width="8.8" height="9.4"/><rect x="1142.4" y="473.7" width="8.8" height="9.4"/><rect x="1145.6" y="473.8" width="8.8" height="9.4"/><rect x="1148.8" y="473.9" width="8.8" height="9.4"/><rect x="1152" y="474" width="8.8" height="9.4"/><rect x="1155.2" y="474.1" width="8.8" height="9.4"/><rect x="1159.9" y="474.2" width="8.8" height="9.4"/><rect x="1164.6" y="474.4" width="8.8" height="9.4"/><rect x="1169.3" y="474.5" width="8.8" height="9.4"/><rect x="1174" y="474.7" width="8.8" height="9.4"/><rect x="1178.7" y="474.8" width="8.8" height="9.4"/><rect x="1183.4" y="475" width="8.8" height="9.4"/><rect x="1188.1" y="475.1" width="8.8" height="9.4"/><rect x="1192.8" y="475.3" width="8.8" height="9.4"/><rect x="1197.5" y="475.4" width="8.8" height="9.4"/><rect x="1202.2" y="475.6" width="8.8" height="9.4"/><rect x="1213.6" y="475.7" width="8.8" height="9.4"/><rect x="1228.8" y="475.9" width="8.8" height="9.4"/><rect x="1247.6" y="475.9" width="8.8" height="9.4"/><rect x="1252.8" y="475.9" width="8.8" height="9.4"/><rect x="1258" y="475.9" width="8.8" height="9.4"/><rect x="1263.2" y="475.8" width="8.8" height="9.4"/><rect x="1268.4" y="475.8" width="8.8" height="9.4"/><rect x="1273.6" y="475.8" width="8.8" height="9.4"/><rect x="1278.8" y="475.8" width="8.8" height="9.4"/><rect x="1284" y="475.8" width="8.8" height="9.4"/><rect x="1289.2" y="475.8" width="8.8" height="9.4"/><rect x="1294.4" y="475.8" width="8.8" height="9.4"/><rect x="1299.6" y="475.8" width="8.8" height="9.4"/><rect x="1304.8" y="475.9" width="8.8" height="9.4"/><rect x="1310" y="475.9" width="8.8" height="9.4"/><rect x="1315.2" y="475.9" width="8.8" height="9.4"/><rect x="1320.4" y="476" width="8.8" height="9.4"/><rect x="1325.6" y="476" width="8.8" height="9.4"/><rect x="1330.8" y="476" width="8.8" height="9.4"/><rect x="1336" y="476.1" width="8.8" height="9.4"/><rect x="1341.2" y="476.1" width="8.8" height="9.4"/><rect x="1346.4" y="476.2" width="8.8" height="9.4"/><rect x="1351.6" y="476.2" width="8.8" height="9.4"/><rect x="1356.8" y="476.2" width="8.8" height="9.4"/><rect x="1362" y="476.3" width="8.8" height="9.4"/><rect x="1367.2" y="476.3" width="8.8" height="9.4"/><rect x="1372.4" y="476.3" width="8.8" height="9.4"/><rect x="1377.6" y="476.4" width="8.8" height="9.4"/><rect x="1382.8" y="476.4" width="8.8" height="9.4"/><rect x="1388" y="476.4" width="8.8" height="9.4"/><rect x="1393.2" y="476.5" width="8.8" height="9.4"/><rect x="1398.4" y="476.5" width="8.8" height="9.4"/><rect x="1403.6" y="476.6" width="8.8" height="9.4"/><rect x="1408.8" y="476.7" width="8.8" height="9.4"/><rect x="1414" y="476.8" width="8.8" height="9.4"/><rect x="1419.2" y="476.8" width="8.8" height="9.4"/><rect x="1424.4" y="476.9" width="8.8" height="9.4"/><rect x="1429.6" y="477" width="8.8" height="9.4"/><rect x="1434.8" y="477.1" width="8.8" height="9.4"/><rect x="1440" y="477.1" width="8.8" height="9.4"/><rect x="1445.2" y="477.2" width="8.8" height="9.4"/><rect x="1452.4" y="477.3" width="8.8" height="9.4"/><rect x="1464.2" y="477.5" width="8.8" height="9.4"/><rect x="1477" y="477.7" width="8.8" height="9.4"/><rect x="1489.8" y="478.1" width="8.8" height="9.4"/><rect x="1505.7" y="478.5" width="8.8" height="9.4"/><rect x="1525.2" y="479" width="8.8" height="9.4"/><rect x="1537.7" y="479.4" width="8.8" height="9.4"/><rect x="1555.5" y="479.9" width="8.8" height="9.4"/><rect x="1566.4" y="480.3" width="8.8" height="9.4"/></g>
<path d="M982.5 329.8C983.5 331.2 986.1 336.7 988.2 338.4C990.3 340.1 993.1 338.1 995.3 340C997.5 341.9 999.3 346.6 1001.6 349.6C1003.9 352.6 1006.9 355.4 1009 358.2C1011.1 361 1012.7 364 1014.5 366.6C1016.3 369.2 1017.5 370.5 1019.6 373.6C1021.7 376.7 1025.3 381.7 1027.2 385.2C1029.1 388.7 1029.8 392.4 1031.2 394.6C1032.6 396.8 1033.1 397.6 1035.6 398.2C1038.1 398.8 1044 397 1046.4 398.4C1048.9 399.8 1048.7 403.9 1050.3 406.6C1051.9 409.3 1053.2 412.2 1056 414.5C1058.8 416.8 1064.6 419 1067.4 420.6C1070.2 422.2 1071 422.8 1073 424.1C1075 425.4 1076.4 426.5 1079.7 428.2C1083 429.9 1088.8 432.7 1093 434.2C1097.2 435.7 1098.9 436 1105.1 437.2C1111.3 438.4 1123.8 440.4 1130.3 441.6C1136.8 442.8 1139.5 443.5 1144 444.2C1148.5 444.9 1152.9 445.4 1157.4 446C1161.9 446.6 1166.5 447.1 1170.8 447.6C1175.1 448.1 1179 448.5 1183.2 449C1187.5 449.5 1191.8 449.9 1196.3 450.4C1200.8 450.9 1205.9 451.4 1210.5 452C1215.1 452.6 1219.6 453.3 1223.9 453.9C1228.2 454.5 1232.2 454.9 1236.4 455.4C1240.7 455.9 1245 456.3 1249.4 456.8C1253.8 457.3 1258.3 458 1262.6 458.5C1266.9 459 1270.8 459.3 1275 459.8C1279.2 460.3 1283.3 461 1287.5 461.5C1291.7 462 1291.1 462.3 1300 463C1308.9 463.7 1325.6 464.6 1341 465.8C1356.4 467 1377.4 468.9 1392.4 470.1C1407.4 471.3 1420.2 472 1431 472.8C1441.8 473.6 1450.9 474.4 1457.4 475C1464 475.6 1463.7 475.9 1470.3 476.6C1476.9 477.3 1490 478.6 1497 479.4C1504 480.2 1506.4 480.5 1512.6 481.2C1518.8 481.9 1527.2 483 1534 483.6C1540.8 484.2 1550.4 484.5 1553.7 484.7" fill="none" stroke="#90b444" stroke-width="2.2" stroke-linejoin="round"/>
<g fill="none" stroke="#95b058" stroke-width="1.2"><path d="M982.5 325.6L986.5 333.4H978.5Z"/><path d="M984.5 328.7L988.5 336.5H980.5Z"/><path d="M986.6 331.8L990.6 339.6H982.6Z"/><path d="M989 334.4L993 342.2H985Z"/><path d="M992.6 335.2L996.6 343H988.6Z"/><path d="M995.8 336.6L999.8 344.4H991.8Z"/><path d="M997.9 339.7L1001.9 347.5H993.9Z"/><path d="M999.9 342.8L1003.9 350.6H995.9Z"/><path d="M1002 345.9L1006 353.7H998Z"/><path d="M1004.5 348.7L1008.5 356.5H1000.5Z"/><path d="M1006.9 351.6L1010.9 359.4H1002.9Z"/><path d="M1009.3 354.4L1013.3 362.2H1005.3Z"/><path d="M1011.3 357.5L1015.3 365.3H1007.3Z"/><path d="M1013.4 360.7L1017.4 368.5H1009.4Z"/><path d="M1015.5 363.8L1019.5 371.6H1011.5Z"/><path d="M1017.7 366.8L1021.7 374.6H1013.7Z"/><path d="M1019.9 369.8L1023.9 377.6H1015.9Z"/><path d="M1021.9 372.9L1025.9 380.7H1017.9Z"/><path d="M1024 376L1028 383.8H1020Z"/><path d="M1026 379.2L1030 387H1022Z"/><path d="M1027.8 382.4L1031.8 390.2H1023.8Z"/><path d="M1030.2 388.1L1034.2 395.9H1026.2Z"/><path d="M1035.5 393.9L1039.5 401.7H1031.5Z"/><path d="M1040.9 394.1L1044.9 401.9H1036.9Z"/><path d="M1046.2 394.2L1050.2 402H1042.2Z"/><path d="M1050.2 402.2L1054.2 410H1046.2Z"/><path d="M1055.6 409.7L1059.6 417.5H1051.6Z"/><path d="M1067 416.2L1071 424H1063Z"/><path d="M1073 419.9L1077 427.7H1069Z"/><path d="M1079.7 424L1083.7 431.8H1075.7Z"/><path d="M1093 430L1097 437.8H1089Z"/><path d="M1105.1 433L1109.1 440.8H1101.1Z"/><path d="M1118.1 435.3L1122.1 443.1H1114.1Z"/><path d="M1131 437.5L1135 445.3H1127Z"/><path d="M1144.8 440.1L1148.8 447.9H1140.8Z"/><path d="M1158.6 441.9L1162.6 449.7H1154.6Z"/><path d="M1170.4 443.4L1174.4 451.2H1166.4Z"/><path d="M1184.2 444.9L1188.2 452.7H1180.2Z"/><path d="M1196.7 446.2L1200.7 454H1192.7Z"/><path d="M1210.4 447.8L1214.4 455.6H1206.4Z"/><path d="M1224.7 449.8L1228.7 457.6H1220.7Z"/><path d="M1237.2 451.3L1241.2 459.1H1233.2Z"/><path d="M1249.6 452.6L1253.6 460.4H1245.6Z"/><path d="M1262.6 454.3L1266.6 462.1H1258.6Z"/><path d="M1275.6 455.7L1279.6 463.5H1271.6Z"/><path d="M1288.5 457.4L1292.5 465.2H1284.5Z"/><path d="M1303.3 459L1307.3 466.8H1299.3Z"/><path d="M1314.9 459.8L1318.9 467.6H1310.9Z"/><path d="M1327.7 460.7L1331.7 468.5H1323.7Z"/><path d="M1341.3 461.6L1345.3 469.4H1337.3Z"/><path d="M1354.1 462.7L1358.1 470.5H1350.1Z"/><path d="M1366.6 463.7L1370.6 471.5H1362.6Z"/><path d="M1381.7 465L1385.7 472.8H1377.7Z"/><path d="M1392.4 465.9L1396.4 473.7H1388.4Z"/><path d="M1406.7 466.9L1410.7 474.7H1402.7Z"/><path d="M1417.4 467.6L1421.4 475.4H1413.4Z"/><path d="M1430.9 468.6L1434.9 476.4H1426.9Z"/><path d="M1457.4 470.8L1461.4 478.6H1453.4Z"/><path d="M1470.3 472.4L1474.3 480.2H1466.3Z"/><path d="M1484.2 473.9L1488.2 481.7H1480.2Z"/><path d="M1496.3 475.1L1500.3 482.9H1492.3Z"/><path d="M1512.6 477L1516.6 484.8H1508.6Z"/><path d="M1525.5 478.4L1529.5 486.2H1521.5Z"/><path d="M1534.1 479.4L1538.1 487.2H1530.1Z"/><path d="M1542.1 479.9L1546.1 487.7H1538.1Z"/><path d="M1553.7 480.5L1557.7 488.3H1549.7Z"/></g>
<path d="M986.2 412.8C986.9 413.3 988.3 415.4 990.2 416C992.1 416.6 995.6 415.1 997.5 416.2C999.4 417.3 1000.2 421.1 1001.5 422.5C1002.8 423.9 1002.2 423 1005.5 424.9C1008.8 426.8 1016.8 431.2 1021.5 434C1026.2 436.8 1031 439.8 1033.6 441.4C1036.1 442.9 1035.6 442.8 1036.8 443.3C1038 443.8 1037.7 444.2 1040.8 444.4C1043.9 444.6 1052.2 444.1 1055.3 444.6C1058.4 445.1 1057.8 446.5 1059.3 447.4C1060.8 448.3 1061.8 449 1064.1 449.8C1066.4 450.6 1068 451.5 1072.9 452.4C1077.8 453.3 1087.8 454.7 1093.7 455.4C1099.6 456.1 1091.3 454.8 1108.4 456.4C1125.5 458 1175.4 463.4 1196.3 465.1C1217.2 466.8 1216.5 465.8 1233.7 466.4C1250.9 467 1274 467.5 1299.6 468.5C1325.1 469.5 1357.6 471 1387 472.5C1416.4 474 1450.5 476.1 1476 477.5C1501.5 478.9 1524 479.8 1540 481C1556 482.2 1566.7 484.1 1572 484.7" fill="none" stroke="#7048a2" stroke-width="2.2" stroke-linejoin="round"/>
<g fill="none" stroke="#7048a2" stroke-width="1.4"><path d="M982.3 408.8L989.7 416.8M989.7 408.8L982.3 416.8"/><path d="M985.7 411.4L993.1 419.4M993.1 411.4L985.7 419.4"/><path d="M988.3 412L995.7 420M995.7 412L988.3 420"/><path d="M991.3 412.1L998.7 420.1M998.7 412.1L991.3 420.1"/><path d="M993.7 412.2L1001.1 420.2M1001.1 412.2L993.7 420.2"/><path d="M995.9 415.5L1003.3 423.5M1003.3 415.5L995.9 423.5"/><path d="M998.3 418.8L1005.7 426.8M1005.7 418.8L998.3 426.8"/><path d="M1000.7 420.2L1008.1 428.2M1008.1 420.2L1000.7 428.2"/><path d="M1004.3 422.3L1011.7 430.3M1011.7 422.3L1004.3 430.3"/><path d="M1008.2 424.5L1015.6 432.5M1015.6 424.5L1008.2 432.5"/><path d="M1012.1 426.8L1019.5 434.8M1019.5 426.8L1012.1 434.8"/><path d="M1016.4 429.2L1023.8 437.2M1023.8 429.2L1016.4 437.2"/><path d="M1020.9 431.9L1028.3 439.9M1028.3 431.9L1020.9 439.9"/><path d="M1025.9 435L1033.3 443M1033.3 435L1025.9 443"/><path d="M1030.7 437.9L1038.1 445.9M1038.1 437.9L1030.7 445.9"/><path d="M1034.9 439.8L1042.3 447.8M1042.3 439.8L1034.9 447.8"/><path d="M1038.4 440.4L1045.8 448.4M1045.8 440.4L1038.4 448.4"/><path d="M1041.9 440.5L1049.3 448.5M1049.3 440.5L1041.9 448.5"/><path d="M1045.4 440.5L1052.8 448.5M1052.8 440.5L1045.4 448.5"/><path d="M1049.9 440.6L1057.3 448.6M1057.3 440.6L1049.9 448.6"/><path d="M1055.7 443.5L1063.1 451.5M1063.1 443.5L1055.7 451.5"/><path d="M1061.6 446.2L1069 454.2M1069 446.2L1061.6 454.2"/><path d="M1068.5 448.2L1075.9 456.2M1075.9 448.2L1068.5 456.2"/><path d="M1075.3 449.3L1082.7 457.3M1082.7 449.3L1075.3 457.3"/><path d="M1084.1 450.5L1091.5 458.5M1091.5 450.5L1084.1 458.5"/><path d="M1093 451.6L1100.4 459.6M1100.4 451.6L1093 459.6"/><path d="M1098.8 452L1106.2 460M1106.2 452L1098.8 460"/><path d="M1104.7 452.4L1112.1 460.4M1112.1 452.4L1104.7 460.4"/><path d="M1107.9 452.7L1115.3 460.7M1115.3 452.7L1107.9 460.7"/><path d="M1111.1 453L1118.5 461M1118.5 453L1111.1 461"/><path d="M1114.3 453.4L1121.7 461.4M1121.7 453.4L1114.3 461.4"/><path d="M1117.5 453.7L1124.9 461.7M1124.9 453.7L1117.5 461.7"/><path d="M1120.7 454L1128.1 462M1128.1 454L1120.7 462"/><path d="M1123.9 454.3L1131.3 462.3M1131.3 454.3L1123.9 462.3"/><path d="M1127.1 454.6L1134.5 462.6M1134.5 454.6L1127.1 462.6"/><path d="M1130.3 454.9L1137.7 462.9M1137.7 454.9L1130.3 462.9"/><path d="M1133.5 455.3L1140.9 463.3M1140.9 455.3L1133.5 463.3"/><path d="M1136.7 455.6L1144.1 463.6M1144.1 455.6L1136.7 463.6"/><path d="M1139.9 455.9L1147.3 463.9M1147.3 455.9L1139.9 463.9"/><path d="M1143.1 456.2L1150.5 464.2M1150.5 456.2L1143.1 464.2"/><path d="M1146.3 456.5L1153.7 464.5M1153.7 456.5L1146.3 464.5"/><path d="M1149.5 456.8L1156.9 464.8M1156.9 456.8L1149.5 464.8"/><path d="M1152.7 457.2L1160.1 465.2M1160.1 457.2L1152.7 465.2"/><path d="M1155.9 457.5L1163.3 465.5M1163.3 457.5L1155.9 465.5"/><path d="M1160.6 457.9L1168 465.9M1168 457.9L1160.6 465.9"/><path d="M1165.3 458.4L1172.7 466.4M1172.7 458.4L1165.3 466.4"/><path d="M1170 458.9L1177.4 466.9M1177.4 458.9L1170 466.9"/><path d="M1174.7 459.3L1182.1 467.3M1182.1 459.3L1174.7 467.3"/><path d="M1179.4 459.8L1186.8 467.8M1186.8 459.8L1179.4 467.8"/><path d="M1184.1 460.3L1191.5 468.3M1191.5 460.3L1184.1 468.3"/><path d="M1188.8 460.7L1196.2 468.7M1196.2 460.7L1188.8 468.7"/><path d="M1193.5 461.1L1200.9 469.1M1200.9 461.1L1193.5 469.1"/><path d="M1198.2 461.3L1205.6 469.3M1205.6 461.3L1198.2 469.3"/><path d="M1202.9 461.5L1210.3 469.5M1210.3 461.5L1202.9 469.5"/><path d="M1214.3 461.9L1221.7 469.9M1221.7 461.9L1214.3 469.9"/><path d="M1229.5 462.4L1236.9 470.4M1236.9 462.4L1229.5 470.4"/><path d="M1242.3 462.8L1249.7 470.8M1249.7 462.8L1242.3 470.8"/><path d="M1249.6 463L1257 471M1257 463L1249.6 471"/><path d="M1256.5 463.2L1263.9 471.2M1263.9 463.2L1256.5 471.2"/><path d="M1263.4 463.5L1270.8 471.5M1270.8 463.5L1263.4 471.5"/><path d="M1270.3 463.7L1277.7 471.7M1277.7 463.7L1270.3 471.7"/><path d="M1277.2 463.9L1284.6 471.9M1284.6 463.9L1277.2 471.9"/><path d="M1284.1 464.1L1291.5 472.1M1291.5 464.1L1284.1 472.1"/><path d="M1291 464.3L1298.4 472.3M1298.4 464.3L1291 472.3"/><path d="M1297.9 464.6L1305.3 472.6M1305.3 464.6L1297.9 472.6"/><path d="M1304.8 464.9L1312.2 472.9M1312.2 464.9L1304.8 472.9"/><path d="M1311.7 465.2L1319.1 473.2M1319.1 465.2L1311.7 473.2"/><path d="M1318.6 465.5L1326 473.5M1326 465.5L1318.6 473.5"/><path d="M1325.5 465.9L1332.9 473.9M1332.9 465.9L1325.5 473.9"/><path d="M1332.4 466.2L1339.8 474.2M1339.8 466.2L1332.4 474.2"/><path d="M1339.3 466.5L1346.7 474.5M1346.7 466.5L1339.3 474.5"/><path d="M1346.2 466.8L1353.6 474.8M1353.6 466.8L1346.2 474.8"/><path d="M1353.1 467.1L1360.5 475.1M1360.5 467.1L1353.1 475.1"/><path d="M1360 467.4L1367.4 475.4M1367.4 467.4L1360 475.4"/><path d="M1366.9 467.7L1374.3 475.7M1374.3 467.7L1366.9 475.7"/><path d="M1373.8 468.1L1381.2 476.1M1381.2 468.1L1373.8 476.1"/><path d="M1380.7 468.4L1388.1 476.4M1388.1 468.4L1380.7 476.4"/><path d="M1387.6 468.7L1395 476.7M1395 468.7L1387.6 476.7"/><path d="M1394.5 469.1L1401.9 477.1M1401.9 469.1L1394.5 477.1"/><path d="M1401.4 469.5L1408.8 477.5M1408.8 469.5L1401.4 477.5"/><path d="M1408.3 469.9L1415.7 477.9M1415.7 469.9L1408.3 477.9"/><path d="M1415.2 470.3L1422.6 478.3M1422.6 470.3L1415.2 478.3"/><path d="M1422.1 470.7L1429.5 478.7M1429.5 470.7L1422.1 478.7"/><path d="M1429 471.1L1436.4 479.1M1436.4 471.1L1429 479.1"/><path d="M1435.9 471.5L1443.3 479.5M1443.3 471.5L1435.9 479.5"/><path d="M1442.8 471.8L1450.2 479.8M1450.2 471.8L1442.8 479.8"/><path d="M1449.7 472.2L1457.1 480.2M1457.1 472.2L1449.7 480.2"/><path d="M1456.6 472.6L1464 480.6M1464 472.6L1456.6 480.6"/><path d="M1463.5 473L1470.9 481M1470.9 473L1463.5 481"/><path d="M1470.4 473.4L1477.8 481.4M1477.8 473.4L1470.4 481.4"/><path d="M1477.3 473.8L1484.7 481.8M1484.7 473.8L1477.3 481.8"/><path d="M1484.2 474.2L1491.6 482.2M1491.6 474.2L1484.2 482.2"/><path d="M1491.1 474.5L1498.5 482.5M1498.5 474.5L1491.1 482.5"/><path d="M1498 474.9L1505.4 482.9M1505.4 474.9L1498 482.9"/><path d="M1504.9 475.3L1512.3 483.3M1512.3 475.3L1504.9 483.3"/><path d="M1511.8 475.7L1519.2 483.7M1519.2 475.7L1511.8 483.7"/><path d="M1522.3 476.2L1529.7 484.2M1529.7 476.2L1522.3 484.2"/><path d="M1531.3 476.7L1538.7 484.7M1538.7 476.7L1531.3 484.7"/><path d="M1541.3 477.6L1548.7 485.6M1548.7 477.6L1541.3 485.6"/><path d="M1551.3 478.7L1558.7 486.7M1558.7 478.7L1551.3 486.7"/><path d="M1558.8 479.6L1566.2 487.6M1566.2 479.6L1558.8 487.6"/><path d="M1567.3 480.6L1574.7 488.6M1574.7 480.6L1567.3 488.6"/></g>
</g>
<g font-size="23.5">
<path d="M543 84.3H567.2" stroke="#ea0010" stroke-width="2.1" fill="none"/>
<g fill="none" stroke="#cc2030" stroke-width="1.3"><ellipse cx="555.1" cy="84.3" rx="4.55" ry="4.9"/></g>
<text x="575.3" y="91.8">Niobrara</text>
<path d="M543 112.1H567.2" stroke="#0070c0" stroke-width="2.1" fill="none"/>
<g fill="none" stroke="#1878cc" stroke-width="1.6"><rect x="550.7" y="107.4" width="8.8" height="9.4"/></g>
<text x="575.3" y="119.6">Wolfcamp</text>
<path d="M543 139.9H567.2" stroke="#90b444" stroke-width="2.1" fill="none"/>
<g fill="none" stroke="#95b058" stroke-width="1.2"><path d="M555.1 135.7L559.1 143.5H551.1Z"/></g>
<text x="575.3" y="147.4">Bakken</text>
<path d="M543 167.7H567.2" stroke="#7048a2" stroke-width="2.1" fill="none"/>
<g fill="none" stroke="#7048a2" stroke-width="1.4"><path d="M551.4 163.7L558.8 171.7M558.8 163.7L551.4 171.7"/></g>
<text x="575.3" y="175.2">Utica</text>
</g>
<g font-size="23.5">
<path d="M1373.7 84.3H1397.9" stroke="#ea0010" stroke-width="2.1" fill="none"/>
<g fill="none" stroke="#cc2030" stroke-width="1.3"><ellipse cx="1385.8" cy="84.3" rx="4.55" ry="4.9"/></g>
<text x="1406" y="91.8">Niobrara</text>
<path d="M1373.7 112.1H1397.9" stroke="#0070c0" stroke-width="2.1" fill="none"/>
<g fill="none" stroke="#1878cc" stroke-width="1.6"><rect x="1381.4" y="107.4" width="8.8" height="9.4"/></g>
<text x="1406" y="119.6">Wolfcamp</text>
<path d="M1373.7 139.9H1397.9" stroke="#90b444" stroke-width="2.1" fill="none"/>
<g fill="none" stroke="#95b058" stroke-width="1.2"><path d="M1385.8 135.7L1389.8 143.5H1381.8Z"/></g>
<text x="1406" y="147.4">Bakken</text>
<path d="M1373.7 167.7H1397.9" stroke="#7048a2" stroke-width="2.1" fill="none"/>
<g fill="none" stroke="#7048a2" stroke-width="1.4"><path d="M1382.1 163.7L1389.5 171.7M1389.5 163.7L1382.1 171.7"/></g>
<text x="1406" y="175.2">Utica</text>
</g>
</svg></body></html>
